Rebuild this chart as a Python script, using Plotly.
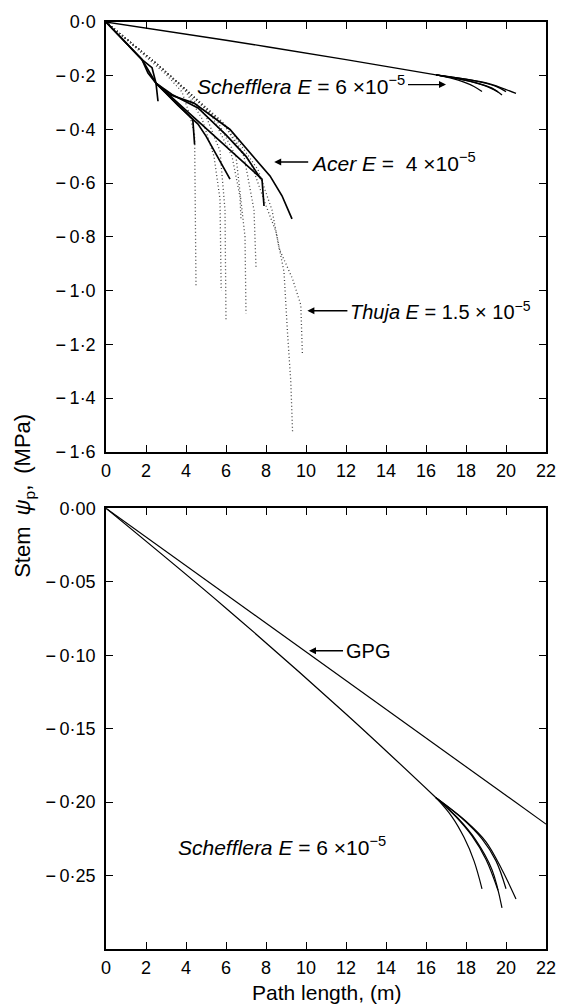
import plotly.graph_objects as go

# ---------------- data ----------------
x_ticks = [0, 2, 4, 6, 8, 10, 12, 14, 16, 18, 20, 22]
x_tick_labels = ["0", "2", "4", "6", "8", "10", "12", "14", "16", "18", "20", "22"]
top_y_ticks = [0.0, -0.2, -0.4, -0.6, -0.8, -1.0, -1.2, -1.4, -1.6]
top_y_labels = ["0·0", "−\u20090·2", "−\u20090·4", "−\u20090·6", "−\u20090·8",
                "−\u20091·0", "−\u20091·2", "−\u20091·4", "−\u20091·6"]
bot_y_ticks = [0.0, -0.05, -0.10, -0.15, -0.20, -0.25]
bot_y_labels = ["0·00", "−\u20090·05", "−\u20090·10", "−\u20090·15", "−\u20090·20", "−\u20090·25"]

# GPG reference line (bottom panel)
gpg_x = [0, 22]
gpg_y = [0, -0.215]

# Schefflera: trunk and branches
sch_trunk_x = [0, 6, 12, 16.5]
sch_trunk_y = [0, -0.068, -0.140, -0.197]
sch_a_x = [16.5, 17.3, 17.9, 18.4, 18.8]
sch_a_y = [-0.197, -0.210, -0.224, -0.240, -0.259]
sch_b_x = [16.5, 17.5, 18.3, 19.0, 19.6]
sch_b_y = [-0.197, -0.210, -0.223, -0.239, -0.260]
sch_c_x = [16.5, 17.6, 18.5, 19.3, 19.8]
sch_c_y = [-0.197, -0.211, -0.226, -0.246, -0.272]
sch_d_x = [16.5, 17.8, 18.8, 19.5, 20.0]
sch_d_y = [-0.197, -0.211, -0.225, -0.240, -0.259]
sch_e_x = [16.5, 18.0, 19.0, 19.8, 20.5]
sch_e_y = [-0.197, -0.213, -0.227, -0.246, -0.266]

# Acer (solid lines, top panel)
acer_1_x = [0, 1.8, 2.1, 2.5, 2.6]
acer_1_y = [0, -0.14, -0.19, -0.228, -0.295]
acer_1b_x = [1.8, 2.3, 2.5]
acer_1b_y = [-0.14, -0.17, -0.228]
acer_2_x = [0, 1.8, 2.5, 3.5, 4.34, 4.43]
acer_2_y = [0, -0.14, -0.228, -0.30, -0.363, -0.456]
acer_3_x = [2.5, 3.6, 4.6, 5.0, 5.6, 6.2]
acer_3_y = [-0.228, -0.31, -0.38, -0.425, -0.505, -0.585]
acer_4_x = [2.5, 5.2, 7.8, 7.9]
acer_4_y = [-0.228, -0.41, -0.585, -0.685]
acer_5_x = [2.5, 3.2, 4.4, 5.3, 6.2, 7.2, 8.2, 8.8, 9.3]
acer_5_y = [-0.228, -0.271, -0.302, -0.351, -0.40, -0.487, -0.573, -0.647, -0.733]
acer_6_x = [2.5, 3.3, 4.6, 6.0, 7.0, 7.75]
acer_6_y = [-0.228, -0.27, -0.32, -0.42, -0.50, -0.585]

# Thuja (dotted lines, top panel)
thuja_1_x = [0, 3.0, 3.8, 4.2, 4.43, 4.47, 4.5]
thuja_1_y = [0, -0.195, -0.26, -0.35, -0.42, -0.70, -0.98]
thuja_2_x = [0, 2.7, 4.0, 4.8, 5.4, 5.7, 5.76]
thuja_2_y = [0, -0.166, -0.26, -0.36, -0.50, -0.66, -1.0]
thuja_3_x = [0, 2.7, 4.0, 5.0, 5.7, 5.95, 6.0]
thuja_3_y = [0, -0.166, -0.255, -0.35, -0.48, -0.70, -1.11]
thuja_4_x = [0, 2.7, 4.0, 5.3, 6.3, 6.7, 6.75]
thuja_4_y = [0, -0.166, -0.252, -0.35, -0.50, -0.65, -0.735]
thuja_5_x = [0, 2.7, 4.0, 5.5, 6.5, 6.95, 7.0]
thuja_5_y = [0, -0.166, -0.252, -0.36, -0.50, -0.80, -1.085]
thuja_6_x = [0, 2.7, 4.0, 5.8, 6.9, 7.4, 7.5]
thuja_6_y = [0, -0.166, -0.252, -0.37, -0.50, -0.70, -0.912]
thuja_7_x = [0, 2.7, 4.0, 6.0, 7.3, 8.0, 8.5, 8.9, 9.07, 9.24, 9.33]
thuja_7_y = [0, -0.166, -0.252, -0.39, -0.536, -0.684, -0.78, -0.93, -1.15, -1.34, -1.53]
thuja_8_x = [0, 2.7, 4.0, 6.2, 7.6, 8.3, 8.66, 9.32, 9.74, 9.82]
thuja_8_y = [0, -0.166, -0.252, -0.40, -0.55, -0.70, -0.844, -0.955, -1.053, -1.238]

# ---------------- figure ----------------
FONT = "Liberation Sans, Arial, Helvetica, sans-serif"
fig = go.Figure()

def add_line(x, y, xa, ya, width=1.3, color="black", dash="solid", shape="linear"):
    fig.add_trace(go.Scatter(x=x, y=y, mode="lines", xaxis=xa, yaxis=ya,
                             line=dict(color=color, width=width, dash=dash, shape=shape),
                             showlegend=False, hoverinfo="skip"))

sch_sets = [(sch_trunk_x, sch_trunk_y), (sch_a_x, sch_a_y), (sch_b_x, sch_b_y),
            (sch_c_x, sch_c_y), (sch_d_x, sch_d_y), (sch_e_x, sch_e_y)]
thuja_sets = [(thuja_1_x, thuja_1_y), (thuja_2_x, thuja_2_y), (thuja_3_x, thuja_3_y),
              (thuja_4_x, thuja_4_y), (thuja_5_x, thuja_5_y), (thuja_6_x, thuja_6_y),
              (thuja_7_x, thuja_7_y), (thuja_8_x, thuja_8_y)]
acer_sets = [(acer_1_x, acer_1_y), (acer_1b_x, acer_1b_y), (acer_2_x, acer_2_y),
             (acer_3_x, acer_3_y), (acer_4_x, acer_4_y), (acer_5_x, acer_5_y),
             (acer_6_x, acer_6_y)]

# top panel
for x, y in thuja_sets:
    add_line(x, y, "x", "y", width=1.3, color="#444444", dash="1px,2.5px")
for x, y in acer_sets:
    add_line(x, y, "x", "y", width=1.7)
for x, y in sch_sets:
    add_line(x, y, "x", "y", width=1.3, shape="spline")

# bottom panel
add_line(gpg_x, gpg_y, "x2", "y2", width=1.2)
for x, y in sch_sets:
    add_line(x, y, "x2", "y2", width=1.2, shape="spline")

axis_common = dict(showline=True, linecolor="black", linewidth=1.5, mirror="ticks",
                   ticks="inside", ticklen=7, tickwidth=1.4, tickcolor="black",
                   showgrid=False, zeroline=False,
                   tickfont=dict(family=FONT, size=18, color="black"))

fig.update_layout(
    width=568, height=1004,
    margin=dict(l=106, r=20, t=15, b=55),
    paper_bgcolor="white", plot_bgcolor="white",
    showlegend=False,
    xaxis=dict(domain=[0, 1], range=[0, 22], anchor="y", tickvals=x_ticks,
               ticktext=x_tick_labels, ticklabelstandoff=2, **axis_common),
    yaxis=dict(domain=[0.5364, 1], range=[-1.6, 0], anchor="x", tickvals=top_y_ticks,
               ticktext=top_y_labels, ticklabelstandoff=5, **axis_common),
    xaxis2=dict(domain=[0, 1], range=[0, 22], anchor="y2", tickvals=x_ticks,
                ticktext=x_tick_labels, ticklabelstandoff=2, **axis_common),
    yaxis2=dict(domain=[0, 0.4754], range=[-0.30, 0], anchor="x2", tickvals=bot_y_ticks,
                ticktext=bot_y_labels, ticklabelstandoff=5, **axis_common),
)

tfont = dict(family=FONT, size=21, color="black")
tfont2 = dict(family=FONT, size=20, color="black")
arr = dict(showarrow=True, arrowhead=2, arrowsize=1, arrowwidth=1.4,
           arrowcolor="black", ay=0, yanchor="middle", borderpad=0, startstandoff=2)
annots = [
    # top panel labels with arrows (arrow head at x, y; text box beside the tail)
    dict(x=17.0, y=-0.233, xref="x", yref="y", ax=-40, xanchor="right",
         text="<i>Schefflera E</i> = 6 ×10<sup>−5</sup>", font=tfont, **arr),
    dict(x=8.41, y=-0.521, xref="x", yref="y", ax=36, xanchor="left",
         text="<i>Acer E</i> =  4 ×10<sup>−5</sup>", font=tfont, **arr),
    dict(x=10.07, y=-1.075, xref="x", yref="y", ax=42, xanchor="left",
         text="<i>Thuja E</i> = 1.5 × 10<sup>−5</sup>", font=tfont2, **arr),
    # bottom panel labels
    dict(x=10.15, y=-0.097, xref="x2", yref="y2", ax=36, xanchor="left",
         text="GPG", font=tfont2, **arr),
    dict(x=3.5, y=-0.230, xref="x2", yref="y2", xanchor="left", yanchor="middle",
         text="<i>Schefflera E</i> = 6 ×10<sup>−5</sup>", showarrow=False, font=tfont),
    # axis titles
    dict(x=-0.1855, y=0.4893, xref="paper", yref="paper", xanchor="center", yanchor="middle",
         text="Stem\u2002<i>ψ</i><sub>p</sub>,\u2002(MPa)", textangle=-90, showarrow=False,
         font=dict(family=FONT, size=22, color="black")),
    dict(x=0.502, y=-0.0471, xref="paper", yref="paper", xanchor="center", yanchor="middle",
         text="Path length, (m)", showarrow=False, font=tfont),
]
fig.update_layout(annotations=annots)

fig.write_html("out.html", config={"displayModeBar": False},
               post_script="document.body.style.margin='0';document.body.style.overflow='hidden';")
